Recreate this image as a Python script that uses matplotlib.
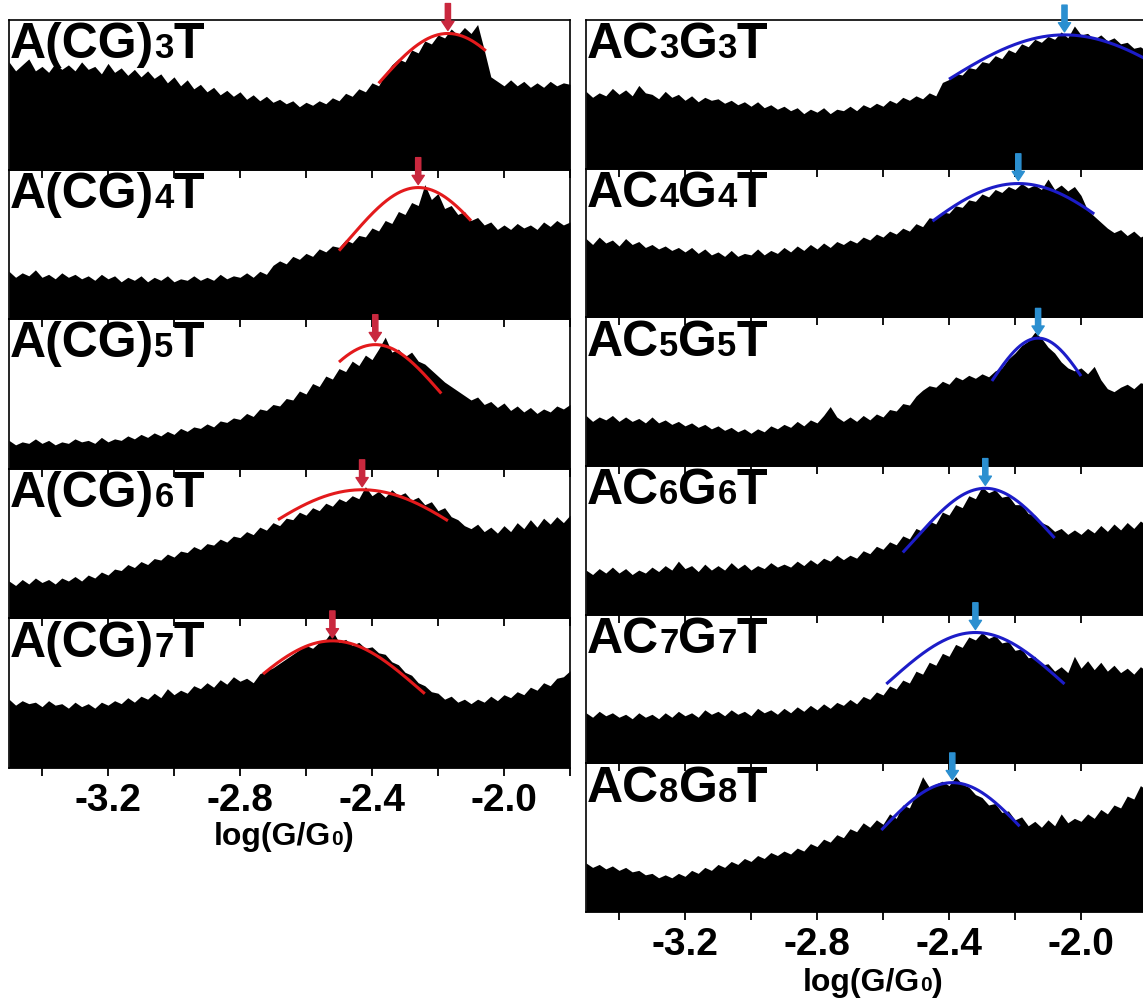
"""Stacked conductance histograms for A(CG)nT and ACnGnT junctions."""

import matplotlib

matplotlib.use("Agg")

import matplotlib.pyplot as plt
import numpy as np
from matplotlib.offsetbox import AnchoredOffsetbox, HPacker, TextArea

plt.rcParams["font.family"] = ["Liberation Sans", "DejaVu Sans"]
plt.rcParams["font.weight"] = "bold"

# === DATA ===

# histogram bin centres, log(G/G0)
log_g = np.round(np.arange(-3.50, -1.795, 0.02), 2)

# normalised counts (left column)
acg3t = [0.72, 0.66, 0.70, 0.74, 0.66, 0.69, 0.65, 0.71, 0.67, 0.70,
         0.66, 0.72, 0.67, 0.69, 0.64, 0.71, 0.65, 0.68, 0.63, 0.67,
         0.62, 0.66, 0.61, 0.64, 0.58, 0.62, 0.56, 0.60, 0.54, 0.57,
         0.52, 0.55, 0.50, 0.53, 0.49, 0.52, 0.47, 0.50, 0.46, 0.49,
         0.45, 0.47, 0.44, 0.46, 0.42, 0.45, 0.43, 0.46, 0.44, 0.48,
         0.46, 0.51, 0.49, 0.54, 0.52, 0.58, 0.56, 0.64, 0.70, 0.74,
         0.72, 0.80, 0.78, 0.86, 0.84, 0.90, 0.88, 0.94, 0.90, 0.95,
         0.91, 0.97, 0.80, 0.62, 0.59, 0.56, 0.60, 0.56, 0.59, 0.55,
         0.58, 0.55, 0.59, 0.56, 0.58, 0.57]
acg4t = [0.32, 0.28, 0.31, 0.29, 0.33, 0.28, 0.30, 0.27, 0.31, 0.28,
         0.30, 0.27, 0.29, 0.26, 0.30, 0.27, 0.29, 0.25, 0.28, 0.26,
         0.29, 0.25, 0.28, 0.26, 0.29, 0.25, 0.27, 0.26, 0.29, 0.26,
         0.28, 0.26, 0.30, 0.27, 0.29, 0.28, 0.31, 0.28, 0.32, 0.30,
         0.36, 0.39, 0.37, 0.42, 0.40, 0.44, 0.42, 0.47, 0.45, 0.49,
         0.48, 0.53, 0.51, 0.56, 0.55, 0.61, 0.59, 0.66, 0.64, 0.72,
         0.70, 0.78, 0.76, 0.90, 0.80, 0.84, 0.74, 0.76, 0.70, 0.72,
         0.66, 0.68, 0.63, 0.65, 0.60, 0.63, 0.60, 0.64, 0.61, 0.63,
         0.60, 0.65, 0.62, 0.66, 0.63, 0.65]
acg5t = [0.19, 0.16, 0.18, 0.17, 0.20, 0.17, 0.19, 0.16, 0.18, 0.17,
         0.20, 0.18, 0.19, 0.17, 0.21, 0.18, 0.20, 0.19, 0.22, 0.20,
         0.23, 0.21, 0.24, 0.22, 0.25, 0.23, 0.27, 0.25, 0.28, 0.27,
         0.30, 0.28, 0.32, 0.31, 0.34, 0.33, 0.37, 0.35, 0.40, 0.39,
         0.43, 0.42, 0.47, 0.46, 0.52, 0.50, 0.57, 0.55, 0.62, 0.60,
         0.67, 0.65, 0.72, 0.69, 0.76, 0.73, 0.80, 0.88, 0.78, 0.80,
         0.75, 0.78, 0.72, 0.70, 0.66, 0.62, 0.58, 0.55, 0.52, 0.49,
         0.46, 0.48, 0.43, 0.45, 0.41, 0.44, 0.39, 0.42, 0.38, 0.41,
         0.37, 0.40, 0.38, 0.42, 0.40, 0.43]
acg6t = [0.25, 0.22, 0.26, 0.23, 0.27, 0.24, 0.26, 0.23, 0.27, 0.25,
         0.28, 0.25, 0.29, 0.27, 0.31, 0.29, 0.33, 0.32, 0.36, 0.34,
         0.38, 0.36, 0.40, 0.39, 0.43, 0.41, 0.45, 0.44, 0.48, 0.46,
         0.50, 0.49, 0.53, 0.51, 0.55, 0.54, 0.58, 0.56, 0.61, 0.59,
         0.64, 0.62, 0.67, 0.66, 0.71, 0.69, 0.74, 0.72, 0.77, 0.75,
         0.80, 0.78, 0.82, 0.80, 0.88, 0.82, 0.85, 0.81, 0.86, 0.82,
         0.84, 0.79, 0.81, 0.76, 0.78, 0.72, 0.74, 0.68, 0.66, 0.62,
         0.60, 0.63, 0.58, 0.61, 0.57, 0.62, 0.58, 0.64, 0.60, 0.66,
         0.61, 0.67, 0.63, 0.68, 0.64, 0.69]
acg7t = [0.46, 0.42, 0.45, 0.43, 0.44, 0.41, 0.45, 0.42, 0.43, 0.40,
         0.44, 0.41, 0.43, 0.40, 0.44, 0.42, 0.45, 0.43, 0.47, 0.44,
         0.48, 0.46, 0.50, 0.47, 0.53, 0.49, 0.52, 0.50, 0.55, 0.53,
         0.57, 0.54, 0.59, 0.56, 0.61, 0.58, 0.60, 0.57, 0.63, 0.65,
         0.67, 0.70, 0.73, 0.76, 0.79, 0.82, 0.80, 0.84, 0.86, 0.92,
         0.84, 0.86, 0.82, 0.84, 0.80, 0.81, 0.77, 0.76, 0.71, 0.69,
         0.64, 0.62, 0.57, 0.55, 0.51, 0.50, 0.46, 0.48, 0.44, 0.46,
         0.43, 0.46, 0.44, 0.48, 0.45, 0.49, 0.47, 0.51, 0.49, 0.54,
         0.52, 0.57, 0.55, 0.60, 0.61, 0.65]

# normalised counts (right column)
ac3g3t = [0.52, 0.48, 0.51, 0.49, 0.54, 0.50, 0.53, 0.49, 0.56, 0.51,
          0.50, 0.47, 0.52, 0.48, 0.50, 0.46, 0.49, 0.45, 0.48, 0.46,
          0.47, 0.44, 0.46, 0.43, 0.45, 0.42, 0.45, 0.41, 0.43, 0.40,
          0.42, 0.39, 0.41, 0.37, 0.40, 0.38, 0.41, 0.37, 0.40, 0.39,
          0.42, 0.39, 0.43, 0.41, 0.44, 0.42, 0.46, 0.44, 0.48, 0.46,
          0.49, 0.47, 0.51, 0.49, 0.58, 0.60, 0.64, 0.63, 0.68, 0.67,
          0.72, 0.71, 0.76, 0.74, 0.80, 0.78, 0.84, 0.82, 0.87, 0.85,
          0.89, 0.87, 0.92, 0.88, 0.96, 0.90, 0.91, 0.87, 0.90, 0.86,
          0.88, 0.84, 0.85, 0.81, 0.82, 0.79]
ac4g4t = [0.53, 0.49, 0.54, 0.50, 0.52, 0.48, 0.53, 0.49, 0.51, 0.47,
          0.49, 0.46, 0.48, 0.45, 0.47, 0.44, 0.47, 0.43, 0.46, 0.42,
          0.44, 0.41, 0.45, 0.41, 0.43, 0.42, 0.46, 0.42, 0.45, 0.43,
          0.47, 0.44, 0.48, 0.45, 0.49, 0.46, 0.50, 0.47, 0.51, 0.49,
          0.52, 0.50, 0.54, 0.52, 0.56, 0.54, 0.58, 0.56, 0.60, 0.58,
          0.63, 0.61, 0.67, 0.66, 0.71, 0.70, 0.75, 0.74, 0.79, 0.78,
          0.83, 0.81, 0.86, 0.84, 0.88, 0.86, 0.90, 0.87, 0.89, 0.86,
          0.93, 0.86, 0.89, 0.85, 0.88, 0.82, 0.72, 0.68, 0.64, 0.60,
          0.57, 0.59, 0.55, 0.58, 0.54, 0.56]
ac5g5t = [0.34, 0.30, 0.33, 0.31, 0.34, 0.30, 0.33, 0.30, 0.32, 0.29,
          0.33, 0.29, 0.31, 0.28, 0.30, 0.27, 0.29, 0.26, 0.28, 0.25,
          0.27, 0.24, 0.26, 0.23, 0.25, 0.22, 0.25, 0.23, 0.27, 0.25,
          0.28, 0.26, 0.30, 0.27, 0.31, 0.29, 0.34, 0.40, 0.33, 0.30,
          0.33, 0.30, 0.34, 0.31, 0.35, 0.33, 0.38, 0.37, 0.42, 0.41,
          0.47, 0.51, 0.54, 0.53, 0.57, 0.55, 0.60, 0.58, 0.61, 0.59,
          0.62, 0.60, 0.64, 0.66, 0.72, 0.76, 0.81, 0.84, 0.90, 0.86,
          0.80, 0.76, 0.70, 0.66, 0.64, 0.66, 0.62, 0.67, 0.58, 0.52,
          0.50, 0.53, 0.55, 0.52, 0.56, 0.55]
ac6g6t = [0.30, 0.27, 0.31, 0.28, 0.32, 0.28, 0.31, 0.27, 0.30, 0.28,
          0.32, 0.29, 0.33, 0.30, 0.36, 0.31, 0.33, 0.29, 0.34, 0.30,
          0.33, 0.30, 0.35, 0.31, 0.34, 0.30, 0.33, 0.31, 0.35, 0.32,
          0.34, 0.32, 0.36, 0.33, 0.37, 0.34, 0.38, 0.36, 0.40, 0.37,
          0.40, 0.38, 0.43, 0.41, 0.46, 0.44, 0.49, 0.47, 0.53, 0.51,
          0.58, 0.56, 0.63, 0.61, 0.69, 0.67, 0.74, 0.72, 0.80, 0.78,
          0.86, 0.82, 0.84, 0.79, 0.80, 0.74, 0.74, 0.68, 0.67, 0.62,
          0.60, 0.56, 0.58, 0.54, 0.57, 0.54, 0.58, 0.55, 0.60, 0.56,
          0.61, 0.57, 0.62, 0.58, 0.63, 0.60]
ac7g7t = [0.34, 0.31, 0.35, 0.32, 0.34, 0.31, 0.33, 0.30, 0.34, 0.31,
          0.33, 0.30, 0.34, 0.31, 0.35, 0.32, 0.34, 0.31, 0.36, 0.33,
          0.35, 0.32, 0.36, 0.33, 0.35, 0.32, 0.37, 0.34, 0.36, 0.33,
          0.37, 0.34, 0.38, 0.35, 0.39, 0.36, 0.40, 0.37, 0.41, 0.39,
          0.43, 0.40, 0.45, 0.43, 0.48, 0.46, 0.52, 0.50, 0.56, 0.54,
          0.62, 0.60, 0.68, 0.66, 0.74, 0.72, 0.80, 0.78, 0.85, 0.83,
          0.88, 0.84, 0.86, 0.81, 0.82, 0.76, 0.77, 0.71, 0.72, 0.66,
          0.67, 0.62, 0.65, 0.61, 0.72, 0.64, 0.69, 0.63, 0.68, 0.62,
          0.66, 0.61, 0.64, 0.60, 0.65, 0.62]
ac8g8t = [0.33, 0.30, 0.32, 0.29, 0.31, 0.28, 0.30, 0.27, 0.28, 0.25,
          0.26, 0.23, 0.25, 0.23, 0.26, 0.24, 0.28, 0.26, 0.30, 0.28,
          0.32, 0.30, 0.34, 0.32, 0.36, 0.34, 0.38, 0.36, 0.40, 0.38,
          0.41, 0.39, 0.43, 0.41, 0.46, 0.44, 0.49, 0.47, 0.52, 0.50,
          0.56, 0.54, 0.60, 0.57, 0.62, 0.59, 0.66, 0.63, 0.72, 0.70,
          0.80, 0.91, 0.84, 0.86, 0.88, 0.85, 0.91, 0.86, 0.84, 0.79,
          0.77, 0.72, 0.73, 0.67, 0.68, 0.62, 0.64, 0.58, 0.61, 0.57,
          0.62, 0.58, 0.66, 0.60, 0.63, 0.61, 0.66, 0.63, 0.69, 0.66,
          0.72, 0.70, 0.78, 0.76, 0.85, 0.82]

left_counts = [acg3t, acg4t, acg5t, acg6t, acg7t]
right_counts = [ac3g3t, ac4g4t, ac5g5t, ac6g6t, ac7g7t, ac8g8t]

# panel labels: (normal, small, normal, ...) pieces
left_labels = [["A(CG)", "3", "T"], ["A(CG)", "4", "T"], ["A(CG)", "5", "T"],
               ["A(CG)", "6", "T"], ["A(CG)", "7", "T"]]
right_labels = [["AC", "3", "G", "3", "T"], ["AC", "4", "G", "4", "T"],
                ["AC", "5", "G", "5", "T"], ["AC", "6", "G", "6", "T"],
                ["AC", "7", "G", "7", "T"], ["AC", "8", "G", "8", "T"]]

# Gaussian fits: centre, peak height, width, fitted range
left_fit_center = [-2.17, -2.26, -2.39, -2.43, -2.52]
left_fit_peak = [0.91, 0.88, 0.83, 0.86, 0.85]
left_fit_sigma = [0.22, 0.21, 0.20, 0.35, 0.27]
left_fit_from = [-2.38, -2.50, -2.50, -2.685, -2.73]
left_fit_to = [-2.055, -2.10, -2.19, -2.17, -2.24]

right_fit_center = [-2.05, -2.19, -2.13, -2.29, -2.32, -2.39]
right_fit_peak = [0.90, 0.90, 0.86, 0.85, 0.88, 0.87]
right_fit_sigma = [0.39, 0.32, 0.155, 0.21, 0.27, 0.225]
right_fit_from = [-2.40, -2.45, -2.27, -2.54, -2.59, -2.605]
right_fit_to = [-1.75, -1.96, -2.00, -2.08, -2.05, -2.186]

major_ticks = [-3.2, -2.8, -2.4, -2.0]
minor_ticks = [-3.4, -3.0, -2.6, -2.2, -1.8]

FIG_W, FIG_H = 1143, 1006


def px_box(x0, top, w, h):
    """Axes rectangle from pixel coordinates (top-left origin)."""
    return [x0 / FIG_W, 1 - (top + h) / FIG_H, w / FIG_W, h / FIG_H]


def label_box(pieces, size, small):
    """Horizontal run of text pieces, every second piece smaller."""
    areas = []
    for k, piece in enumerate(pieces):
        fs = small if k % 2 else size
        areas.append(TextArea(piece, textprops=dict(fontsize=fs, fontweight="bold",
                                                    color="black")))
    return HPacker(children=areas, align="baseline", pad=0, sep=0)


def draw_panel(ax, counts, label, center, peak, sigma, lo, hi, fit_color,
               arrow_color, show_labels):
    ax.set_facecolor("none")
    ax.fill_between(log_g, 0, counts, color="black", lw=0)

    xs = np.linspace(lo, hi, 200)
    ax.plot(xs, peak * np.exp(-(xs - center) ** 2 / (2 * sigma ** 2)),
            color=fit_color, lw=2.2, solid_capstyle="butt")

    tip = peak + 0.02
    ax.annotate("", xy=(center, tip), xytext=(center, tip + 0.18),
                arrowprops=dict(arrowstyle="simple,head_length=0.6,head_width=0.8,"
                                           "tail_width=0.34",
                                mutation_scale=11, color=arrow_color,
                                shrinkA=0, shrinkB=0),
                annotation_clip=False)

    box = AnchoredOffsetbox(loc="upper left", child=label_box(label, 36, 25),
                            pad=0, borderpad=0, frameon=False,
                            bbox_to_anchor=(0.002, 0.985),
                            bbox_transform=ax.transAxes)
    ax.add_artist(box)

    ax.set_xlim(-3.5, -1.8)
    ax.set_ylim(0, 1.0)
    ax.set_yticks([])
    ax.set_xticks(major_ticks)
    ax.set_xticks(minor_ticks, minor=True)
    ax.tick_params(axis="x", which="both", direction="out", length=5.5,
                   width=1.3, labelsize=28, pad=5, top=False)
    if show_labels:
        ax.set_xticklabels(["-3.2", "-2.8", "-2.4", "-2.0"], fontweight="bold")
    else:
        ax.set_xticklabels([])
    for spine in ax.spines.values():
        spine.set_linewidth(1.2)


fig = plt.figure(figsize=(FIG_W / 100, FIG_H / 100), dpi=100)

left_h = 748 / 5
for i, counts in enumerate(left_counts):
    ax = fig.add_axes(px_box(9, 20 + i * left_h, 561, left_h))
    draw_panel(ax, counts, left_labels[i], left_fit_center[i], left_fit_peak[i],
               left_fit_sigma[i], left_fit_from[i], left_fit_to[i],
               "#e31a1c", "#c9283e", i == len(left_counts) - 1)

right_h = 892 / 6
for i, counts in enumerate(right_counts):
    ax = fig.add_axes(px_box(586, 20 + i * right_h, 561, right_h))
    draw_panel(ax, counts, right_labels[i], right_fit_center[i], right_fit_peak[i],
               right_fit_sigma[i], right_fit_from[i], right_fit_to[i],
               "#1c1cc8", "#2b8fd0", i == len(right_counts) - 1)

# x-axis titles with the small subscript zero
for cx, top in [(9 + 561 / 2 - 6, 822), (586 + 561 / 2 + 6, 968)]:
    title = AnchoredOffsetbox(loc="upper center",
                              child=label_box(["log(G/G", "0", ")"], 23, 15),
                              pad=0, borderpad=0, frameon=False,
                              bbox_to_anchor=(cx / FIG_W, 1 - top / FIG_H),
                              bbox_transform=fig.transFigure)
    fig.add_artist(title)

fig.savefig("out.png", dpi=100)
